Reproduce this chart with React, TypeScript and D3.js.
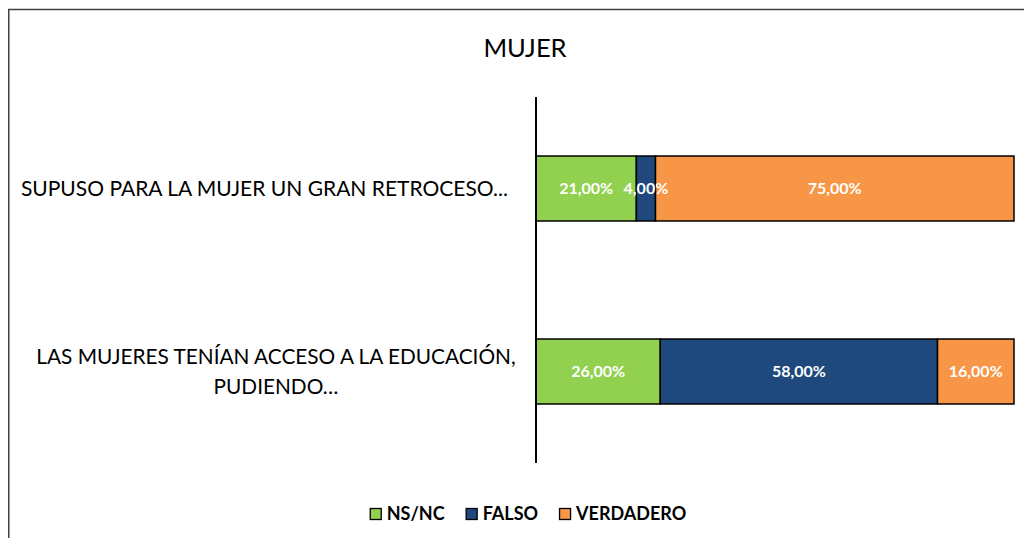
import React, { useEffect, useRef } from "react";
import * as d3 from "d3";

const title = "MUJER";
const categories = [
  ["SUPUSO PARA LA MUJER UN GRAN RETROCESO..."],
  ["LAS MUJERES TENÍAN ACCESO A LA EDUCACIÓN,", "PUDIENDO…"],
];
const seriesNames = ["NS/NC", "FALSO", "VERDADERO"];
const nsnc = [21, 26];
const falso = [4, 58];
const verdadero = [75, 16];
const colors = ["#92D050", "#1F497D", "#F79646"];

const W = 1016;
const H = 530;
const FONT = "Lato, 'Open Sans', sans-serif";

export default function App() {
  const ref = useRef<SVGSVGElement>(null);
  useEffect(() => {
    const svg = d3.select(ref.current);
    svg.selectAll("*").remove();

    svg.append("rect").attr("x", 0.75).attr("y", 1.5).attr("width", 1100).attr("height", 700)
      .attr("fill", "#fff").attr("stroke", "#404040").attr("stroke-width", 1.5);

    svg.append("text").attr("x", 517).attr("y", 49).attr("text-anchor", "middle")
      .attr("font-family", FONT).attr("font-size", 25.5).attr("fill", "#000").text(title);

    const x = d3.scaleLinear().domain([0, 100]).range([528, 1006]);
    const idx = categories.map((_, i) => String(i));
    const y = d3.scaleBand().domain(idx).range([89, 455]).paddingInner(0.645).paddingOuter(0.3225);

    const series = [nsnc, falso, verdadero];
    const rows = categories.map((_, i) => {
      let acc = 0;
      return series.map((s, k) => {
        const seg = { k, x0: acc, x1: acc + s[i], v: s[i] };
        acc += s[i];
        return seg;
      });
    });

    rows.forEach((segs, i) => {
      const g = svg.append("g");
      const yy = y(String(i))!;
      const bh = y.bandwidth();
      segs.forEach((s) => {
        g.append("rect").attr("x", x(s.x0)).attr("y", yy).attr("width", x(s.x1) - x(s.x0)).attr("height", bh)
          .attr("fill", colors[s.k]).attr("stroke", "#000").attr("stroke-width", 1.5);
      });
      segs.forEach((s) => {
        g.append("text").attr("x", (x(s.x0) + x(s.x1)) / 2).attr("y", yy + bh / 2).attr("dy", "0.35em")
          .attr("text-anchor", "middle").attr("font-family", FONT).attr("font-weight", "bold")
          .attr("font-size", 16).attr("fill", "#fff").text(s.v.toFixed(2).replace(".", ",") + "%");
      });
      const lines = categories[i];
      const lh = 30;
      const cy = yy + bh / 2;
      lines.forEach((ln, j) => {
        const t = svg.append("text").attr("font-family", FONT).attr("font-size", lines.length > 1 ? 20.8 : 21)
          .attr("fill", "#000")
          .attr("y", cy + (j - (lines.length - 1) / 2) * lh).attr("dy", "0.35em").text(ln);
        if (lines.length === 1) t.attr("x", 500).attr("text-anchor", "end");
        else t.attr("x", 268).attr("text-anchor", "middle");
      });
    });

    svg.append("line").attr("x1", x(0)).attr("x2", x(0)).attr("y1", 89).attr("y2", 455)
      .attr("stroke", "#000").attr("stroke-width", 2);

    // legend
    const lg = svg.append("g");
    let cx = 0;
    const gap = 21;
    seriesNames.forEach((n, k) => {
      const g = lg.append("g").attr("transform", `translate(${cx},0)`);
      g.append("rect").attr("x", 0.5).attr("y", -5.5).attr("width", 11).attr("height", 11)
        .attr("fill", colors[k]).attr("stroke", "#000").attr("stroke-width", 1.3);
      const t = g.append("text").attr("x", 17).attr("y", 0).attr("dy", "0.35em").attr("font-family", FONT)
        .attr("font-weight", "bold").attr("font-size", 18).attr("fill", "#000").text(n);
      const w = 17 + (t.node() as SVGTextElement).getComputedTextLength();
      cx += w + gap;
    });
    const total = cx - gap;
    lg.attr("transform", `translate(${520 - total / 2},${506})`);
  }, []);
  return (
    <svg ref={ref} width={W} height={H} style={{ display: "block" }} />
  );
}
